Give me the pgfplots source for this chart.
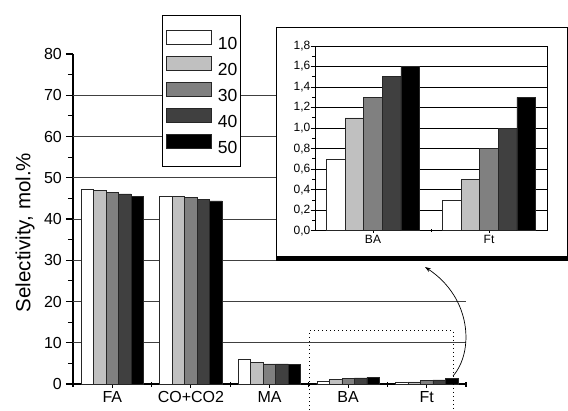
\documentclass[border=0pt]{standalone}
\usepackage{pgfplots}
\pgfplotsset{compat=1.18}
\usepackage{pgfplotstable}
\usepackage{fontspec}
\setmainfont{Liberation Sans}
\usetikzlibrary{arrows.meta}
\definecolor{c10}{HTML}{FFFFFF}
\definecolor{c20}{HTML}{C0C0C0}
\definecolor{c30}{HTML}{808080}
\definecolor{c40}{HTML}{404040}
\definecolor{c50}{HTML}{000000}

\pgfplotstableread{
x s10 s20 s30 s40 s50
0 47.3 46.9 46.4 46.1 45.4
1 45.4 45.4 45.2 44.8 44.4
2 6.0 5.3 4.85 4.85 4.7
3 0.7 1.1 1.3 1.5 1.6
4 0.3 0.5 0.8 1.0 1.3
}\maindata
\pgfplotstableread{
x s10 s20 s30 s40 s50
0 0.7 1.1 1.3 1.5 1.6
1 0.3 0.5 0.8 1.0 1.3
}\insetdata

\pgfplotsset{
  myleg/.style={legend image code/.code={\draw[##1] (0pt,-1.2pt) rectangle (45pt,12.5pt);}},
  barstyle/.style={draw=black!85, line width=0.6pt},
}

\begin{document}
\begin{tikzpicture}
\useasboundingbox (0,0) rectangle (568pt,410pt);
\begin{axis}[
  at={(73pt,26pt)}, anchor=south west,
  scale only axis, width=393pt, height=330pt,
  xmin=-0.5, xmax=4.5, ymin=0, ymax=80,
  axis x line*=bottom, axis y line*=left,
  axis line style={line width=1.8pt},
  ybar=0pt, bar width=12.5pt,
  xtick={0,1,2,3,4}, xticklabels={FA,CO+CO2,MA,BA,Ft},
  minor xtick={-0.5,0.5,1.5,2.5,3.5,4.5},
  ytick={0,10,20,30,40,50,60,70,80}, minor y tick num=1,
  extra y ticks={10,20,30,40,50,60,70}, extra y tick labels={},
  extra y tick style={grid=major, major tick length=0pt},
  major grid style={black!75, line width=0.7pt},
  xtick align=center, ytick align=outside,
  major tick length=7pt, minor tick length=5pt,
  every tick/.style={black, line width=1.1pt},
  tick label style={font=\fontsize{16}{19}\selectfont, inner sep=0pt},
  /pgf/number format/assume math mode=true,
  xticklabel style={yshift=-4pt},
  yticklabel style={xshift=-4pt},
  ylabel={Selectivity, mol.\%},
  every axis y label/.style={at={(axis description cs:-0.1221,0.459)}, rotate=90, anchor=center, font=\fontsize{20.5}{24}\selectfont},
  clip=false,
  legend cell align=left,
  legend style={at={(0.2366,1.0727)}, anchor=north west, draw=none, fill=none, inner sep=0pt, row sep=7pt, column sep=6pt, font=\fontsize{17.5}{21}\selectfont, nodes={inner sep=0pt, text height=12.5pt, text depth=0pt}},
]
\draw[fill=white, line width=0.8pt] (axis cs:0.641,52.85) rectangle (axis cs:1.625,89.45);
\addplot[barstyle, fill=c10, myleg] table[x=x, y=s10] {\maindata};
\addplot[barstyle, fill=c20, myleg] table[x=x, y=s20] {\maindata};
\addplot[barstyle, fill=c30, myleg] table[x=x, y=s30] {\maindata};
\addplot[barstyle, fill=c40, myleg] table[x=x, y=s40] {\maindata};
\addplot[barstyle, fill=c50, myleg] table[x=x, y=s50] {\maindata};
\legend{10,20,30,40,50}
\end{axis}

\draw[line width=1pt, dash pattern=on 1.2pt off 2.8pt] (309pt,0pt) -- (309pt,79pt) -- (453pt,79pt) -- (453pt,0pt);
\draw[line width=0.7pt, -{Stealth[length=6pt,width=4pt]}] (453pt,34pt) .. controls (474pt,58pt) and (472pt,112pt) .. (425pt,143pt);
\draw[fill=white, line width=0.8pt] (276.7pt,152pt) rectangle (567pt,382.7pt);
\draw[line width=4.5pt] (276.3pt,151.7pt) -- (568pt,151.7pt);

\begin{axis}[
  at={(315pt,179.3pt)}, anchor=south west,
  scale only axis, width=232pt, height=184.7pt,
  xmin=-0.5, xmax=1.5, ymin=0, ymax=1.8,
  axis line style={line width=0.9pt},
  ybar=0pt, bar width=18.6pt,
  xtick={0,1}, xticklabels={BA,Ft}, minor xtick={0.5},
  ytick={0,0.2,0.4,0.6,0.8,1.0,1.2,1.4,1.6,1.8}, minor y tick num=1,
  tick pos=left,
  ymajorgrids, major grid style={black, line width=0.6pt},
  xtick align=center, ytick align=outside,
  major tick length=4.5pt, minor tick length=3pt,
  every tick/.style={black, line width=0.8pt},
  tick label style={font=\fontsize{12}{14}\selectfont, inner sep=0pt},
  /pgf/number format/assume math mode=true,
  yticklabel style={/pgf/number format/.cd, fixed, fixed zerofill, precision=1, use comma},
  xticklabel style={yshift=-2pt},
]
\addplot[barstyle, fill=c10] table[x=x, y=s10] {\insetdata};
\addplot[barstyle, fill=c20] table[x=x, y=s20] {\insetdata};
\addplot[barstyle, fill=c30] table[x=x, y=s30] {\insetdata};
\addplot[barstyle, fill=c40] table[x=x, y=s40] {\insetdata};
\addplot[barstyle, fill=c50] table[x=x, y=s50] {\insetdata};
\end{axis}
\end{tikzpicture}
\end{document}
